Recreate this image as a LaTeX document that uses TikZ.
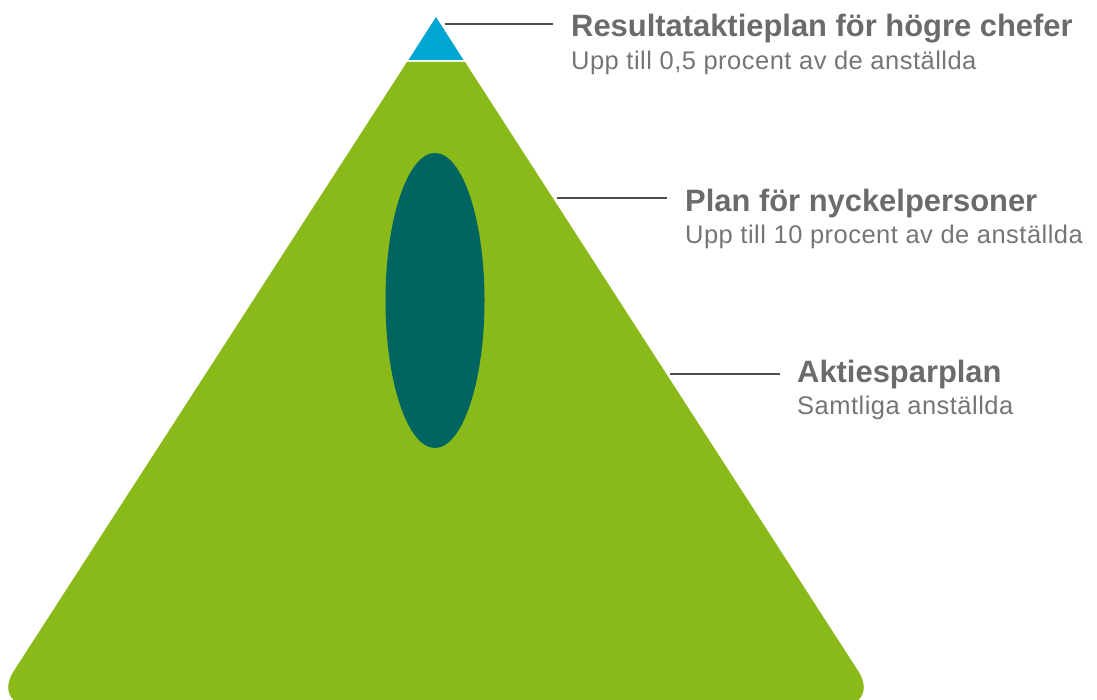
\documentclass[tikz,border=0pt]{standalone}
\usepackage{fontspec}
\setmainfont{Liberation Sans}
\usetikzlibrary{shapes.geometric}
\definecolor{pgreen}{HTML}{8ABA1A}
\definecolor{pblue}{HTML}{00A6D2}
\definecolor{pteal}{HTML}{006461}
\definecolor{ptitle}{HTML}{6B6B6B}
\definecolor{psub}{HTML}{757575}
\definecolor{pline}{HTML}{4D4D4D}
\tikzset{
  title/.style={anchor=base west,inner sep=0pt,text=ptitle,font=\bfseries\fontsize{30.9}{36}\selectfont},
  subtitle/.style={anchor=base west,inner sep=0pt,text=psub,font=\fontsize{25.5}{30}\selectfont\addfontfeature{LetterSpace=1.9}},
  leader/.style={draw=pline,line width=1.3pt}
}
\begin{document}
\begin{tikzpicture}[x=1pt,y=-1pt]
\useasboundingbox (0,0) rectangle (1097,700);
% green body
\fill[pgreen] (407,62) -- (465,62) -- (858.0,670.7) .. controls (870.54,690.1) and (861.9,706) .. (838.8,706)
  -- (33.2,706) .. controls (10.1,706) and (1.46,690.1) .. (14.0,670.7) -- cycle;
% blue tip
\fill[pblue] (436,17) -- (463.5,60) -- (408.5,60) -- cycle;
% ellipse
\node[ellipse,fill=pteal,minimum width=99pt,minimum height=295pt,inner sep=0pt,draw=none] (ell) at (435,300.5) {};
% texts
\node[title] (t1) at (571,37) {Resultataktieplan för högre chefer};
\node[subtitle] (s1) at (571,69.5) {Upp till 0,5 procent av de anställda};
\node[title] (t2) at (685,212) {Plan för nyckelpersoner};
\node[subtitle] (s2) at (685,244) {Upp till 10 procent av de anställda};
\node[title] (t3) at (797,382) {Aktiesparplan};
\node[subtitle] (s3) at (797,414) {Samtliga anställda};
% leaders
\coordinate (a1) at (445,24); \coordinate (b1) at (553,24);
\coordinate (a2) at (557,198); \coordinate (b2) at (667,198);
\coordinate (a3) at (670,374); \coordinate (b3) at (780,374);
\draw[leader] (a1) -- (b1);
\draw[leader] (a2) -- (b2);
\draw[leader] (a3) -- (b3);
\end{tikzpicture}
\end{document}
